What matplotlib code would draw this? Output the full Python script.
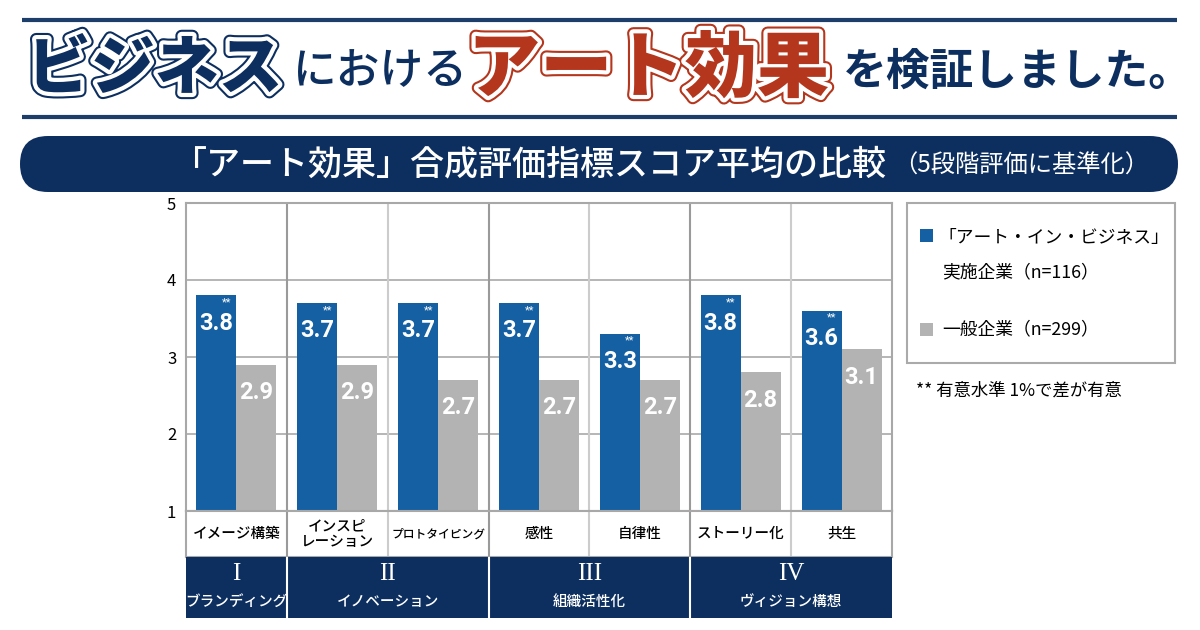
import numpy as np
import matplotlib
matplotlib.use("Agg")
import matplotlib.pyplot as plt
import matplotlib.patheffects as pe
from matplotlib.patches import FancyBboxPatch, Rectangle

plt.rcParams['font.family'] = ['Noto Sans CJK JP', 'DejaVu Sans']

# data
items = ["イメージ構築", "インスピ\nレーション", "プロトタイピング", "感性", "自律性", "ストーリー化", "共生"]
art_in_business = [3.8, 3.7, 3.7, 3.7, 3.3, 3.8, 3.6]
general = [2.9, 2.9, 2.7, 2.7, 2.7, 2.8, 3.1]
group_numerals = ["I", "II", "III", "IV"]
group_names = ["ブランディング", "イノベーション", "組織活性化", "ヴィジョン構想"]
group_cols = [[0], [1, 2], [3, 4], [5, 6]]
yticks = [1, 2, 3, 4, 5]

NAVY = "#0d2f60"
BLUE = "#1560a2"
GRAY = "#b3b3b3"
RED = "#b4361c"
GRID = "#b0b0b0"

fig = plt.figure(figsize=(12, 6.3), dpi=100)

# background layer in pixel units
bg = fig.add_axes([0, 0, 1, 1])
bg.set_xlim(0, 1200)
bg.set_ylim(630, 0)
bg.axis("off")

bg.plot([22, 1177], [20, 20], color="#1d3d6b", lw=3, solid_capstyle="butt")
bg.plot([22, 1177], [117, 117], color="#1d3d6b", lw=3, solid_capstyle="butt")

outline_navy = [pe.Stroke(linewidth=9, foreground=NAVY), pe.Stroke(linewidth=6, foreground="white"), pe.Normal()]
outline_red = [pe.Stroke(linewidth=9, foreground=RED), pe.Stroke(linewidth=6, foreground="white"), pe.Normal()]
bg.text(27, 70, "ビジネス", fontsize=46, fontweight="black", color=NAVY, va="center", ha="left",
        path_effects=outline_navy)
bg.text(293, 72, "における", fontsize=31.5, fontweight="medium", color=NAVY, va="center", ha="left")
bg.text(468, 70, "アート効果", fontsize=52, fontweight="black", color=RED, va="center", ha="left",
        path_effects=outline_red)
bg.text(843, 72, "を検証しました。", fontsize=31.5, fontweight="bold", color=NAVY, va="center", ha="left")

banner = FancyBboxPatch((20, 136), 1158, 56, boxstyle="round,pad=0,rounding_size=28",
                        facecolor=NAVY, edgecolor="none")
bg.add_patch(banner)
bg.text(172, 165, "「アート効果」合成評価指標スコア平均の比較", fontsize=24.5, color="white",
        va="center", ha="left", fontweight="medium")
bg.text(893, 166, "（5段階評価に基準化）", fontsize=17.5, color="white", va="center", ha="left")

# legend
bg.add_patch(Rectangle((907, 203), 268, 160, facecolor="white", edgecolor="#aaaaaa", lw=1.5))
bg.add_patch(Rectangle((920, 229), 13, 13, facecolor=BLUE, edgecolor="none"))
bg.text(938, 238, "「アート・イン・ビジネス」", fontsize=12.8, va="center", ha="left")
bg.text(942, 272, "実施企業（n=116）", fontsize=12.8, va="center", ha="left")
bg.add_patch(Rectangle((920, 323), 13, 13, facecolor=GRAY, edgecolor="none"))
bg.text(942, 329, "一般企業（n=299）", fontsize=12.8, va="center", ha="left")
bg.text(916, 391, "** 有意水準 1%で差が有意", fontsize=12.5, va="center", ha="left")

# main chart
L, R = 186 / 1200, 892 / 1200
W = R - L
ax = fig.add_axes([L, 1 - 511 / 630, W, 308 / 630])
x = np.arange(len(items))
w = 0.396
ax.bar(x - w / 2, art_in_business, w, color=BLUE, zorder=3)
ax.bar(x + w / 2, general, w, color=GRAY, zorder=3)
ax.set_xlim(-0.5, len(items) - 0.5)
ax.set_ylim(1, 5)
ax.set_yticks(yticks)
ax.tick_params(axis="y", length=0, labelsize=12, pad=7)
ax.tick_params(axis="x", length=0, labelbottom=False)
ax.yaxis.grid(True, color=GRID, lw=1.3, zorder=0)
ax.set_axisbelow(True)
boundaries = [0.5, 2.5, 4.5]
for b in np.arange(0.5, len(items) - 0.5, 1.0):
    c = "#9a9a9a" if b in boundaries else "#cccccc"
    ax.axvline(b, color=c, lw=1.5, zorder=1)
for s in ax.spines.values():
    s.set_color("#a8a8a8")
    s.set_linewidth(1.5)

num_font = ['Roboto', 'DejaVu Sans']
for i, (a, g) in enumerate(zip(art_in_business, general)):
    ax.text(i - w / 2, a - 0.36, f"{a:.1f}", color="white", fontsize=17, fontweight="bold",
            family=num_font, ha="center", va="center", zorder=4)
    ax.text(i - 0.05, a - 0.09, "**", color="white", fontsize=8, ha="right", va="center",
            family=num_font, zorder=4)
    ax.text(i + w / 2, g - 0.36, f"{g:.1f}", color="white", fontsize=17, fontweight="bold",
            family=num_font, ha="center", va="center", zorder=4)

# item label row
lab = fig.add_axes([L, 1 - 557 / 630, W, 46 / 630])
lab.set_xlim(-0.5, len(items) - 0.5)
lab.set_ylim(0, 1)
lab.set_xticks([])
lab.set_yticks([])
for s in lab.spines.values():
    s.set_color("#a8a8a8")
    s.set_linewidth(1.5)
for b in np.arange(0.5, len(items) - 0.5, 1.0):
    c = "#9a9a9a" if b in boundaries else "#cccccc"
    lab.axvline(b, color=c, lw=1.5)
for i, name in enumerate(items):
    longest = max(len(part) for part in name.split("\n"))
    size = min(10.5, 94 / (longest * 1.39))
    lab.text(i, 0.5, name, fontsize=size, ha="center", va="center", linespacing=1.15,
             fontweight="medium")

# group band
band = fig.add_axes([L, 1 - 618 / 630, W, 61 / 630])
band.set_facecolor(NAVY)
band.set_xlim(-0.5, len(items) - 0.5)
band.set_ylim(0, 1)
band.set_xticks([])
band.set_yticks([])
for s in band.spines.values():
    s.set_visible(False)
for b in boundaries:
    band.axvline(b, color="white", lw=1.5)
for num, name, cols in zip(group_numerals, group_names, group_cols):
    cx = np.mean(cols)
    band.text(cx, 0.72, num, color="white", fontsize=18, family=['Liberation Serif', 'DejaVu Serif'],
              ha="center", va="center")
    band.text(cx, 0.26, name, color="white", fontsize=10.5, ha="center", va="center",
              fontweight="medium")

fig.savefig("out.png", dpi=100)
